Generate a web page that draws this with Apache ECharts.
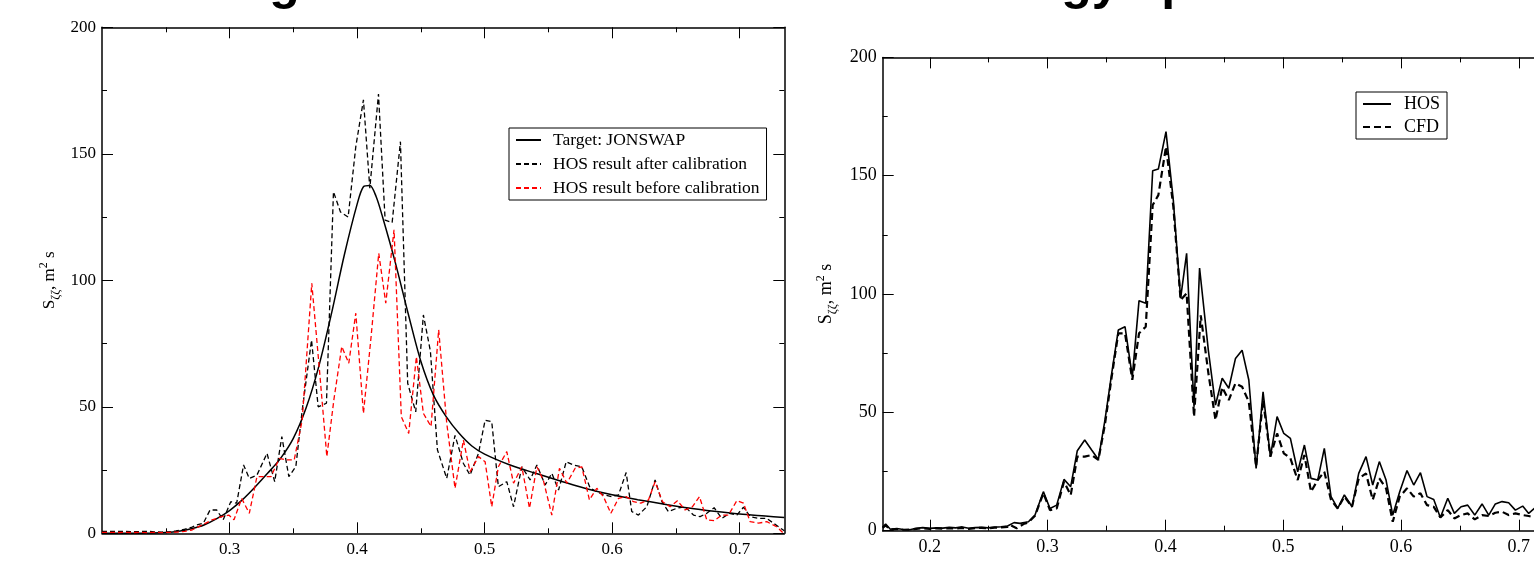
<!DOCTYPE html>
<html><head><meta charset="utf-8">
<script src="https://cdn.jsdelivr.net/npm/echarts@6/dist/echarts.min.js"></script>
<style>html,body{margin:0;padding:0;background:#fff;}#c{width:1534px;height:562px;}</style>
</head><body><div id="c"></div>
<script>
// ---------- data (frequency, S) ----------
const jonswap = [[0.20,0],[0.22,0],[0.24,0.1],[0.25,0.3],[0.26,0.8],[0.27,1.8],[0.28,3.3],[0.29,5.8],[0.30,9.0],[0.31,13.2],[0.32,18.3],[0.33,23.8],[0.34,29.6],[0.35,37.5],[0.36,49.5],[0.37,66],[0.38,87],[0.39,110],[0.40,130],[0.405,137],[0.41,137.5],[0.415,133],[0.42,125],[0.43,107],[0.44,87],[0.45,68],[0.46,54.5],[0.47,46],[0.48,39.5],[0.49,34.5],[0.50,31.3],[0.52,27],[0.54,23.7],[0.56,20.6],[0.58,17.6],[0.60,15.2],[0.62,13.3],[0.64,11.6],[0.66,10],[0.68,8.7],[0.70,7.6],[0.72,6.8],[0.735,6.2]];
const hosAfter = [[0.200,0.8],[0.206,0.8],[0.212,0.7],[0.218,0.8],[0.224,0.6],[0.229,0.7],[0.235,0.8],[0.241,0.6],[0.247,0.5],[0.253,0.6],[0.258,1.0],[0.264,1.5],[0.270,2.3],[0.2743,3.3],[0.2795,4],[0.2847,9.2],[0.290,9.2],[0.295,5.3],[0.301,12.5],[0.3056,11.9],[0.311,27],[0.3155,21.7],[0.3215,23],[0.3294,31.6],[0.3354,20.4],[0.341,38.2],[0.3465,22.4],[0.352,26.4],[0.357,48.7],[0.3643,76.4],[0.3695,50],[0.376,51.4],[0.3815,135],[0.387,127],[0.393,125],[0.399,152.8],[0.405,171.3],[0.410,136.4],[0.4168,173.6],[0.422,123.8],[0.4275,122.8],[0.434,154.8],[0.4397,59.3],[0.446,48],[0.452,86.3],[0.4575,72],[0.463,33],[0.4703,21.7],[0.4768,38.7],[0.4834,27.6],[0.4886,23],[0.4952,31.6],[0.5004,44.7],[0.5056,44.1],[0.5108,18.4],[0.5174,20.4],[0.5227,10.5],[0.5292,26.3],[0.5357,21.1],[0.541,27],[0.5475,19.1],[0.5527,23.7],[0.558,17.1],[0.564,28.3],[0.5697,27],[0.5762,26.3],[0.5828,17.8],[0.588,16.5],[0.5932,15.2],[0.5998,14.5],[0.605,15.2],[0.611,24],[0.6154,8.6],[0.6206,7.2],[0.6272,10.5],[0.6337,21.1],[0.639,12.5],[0.6441,8.6],[0.6507,9.9],[0.6572,10.5],[0.6638,7.2],[0.669,6.6],[0.6742,7.9],[0.680,10.1],[0.686,5.9],[0.6918,7.9],[0.6978,7.2],[0.703,10.3],[0.7082,6.6],[0.7148,5.9],[0.7213,5.9],[0.7265,4],[0.735,1]];
const hosBefore = [[0.200,0.4],[0.206,0.4],[0.212,0.3],[0.218,0.4],[0.224,0.3],[0.229,0.4],[0.235,0.3],[0.241,0.4],[0.247,0.3],[0.253,0.4],[0.259,0.5],[0.265,0.8],[0.2706,1.3],[0.2785,3.3],[0.2863,5.3],[0.294,6.6],[0.2994,7.2],[0.3035,5.3],[0.3095,13.8],[0.3155,7.9],[0.3215,22.4],[0.3265,22.4],[0.3325,22.4],[0.339,29.6],[0.345,29],[0.3507,29],[0.357,44.8],[0.3645,98.8],[0.3705,64.6],[0.3763,30.3],[0.3818,52.7],[0.388,73.8],[0.3935,67.2],[0.399,87],[0.405,47.4],[0.411,77.7],[0.417,110.7],[0.4225,91],[0.429,120],[0.4347,46.1],[0.4405,39.5],[0.4465,69.8],[0.452,47.4],[0.458,42.2],[0.464,80.4],[0.4703,43.6],[0.4768,17.8],[0.4834,36.8],[0.4886,24.3],[0.4952,30.3],[0.5004,28.3],[0.5056,10.5],[0.5108,26.3],[0.5174,32.3],[0.5227,19.8],[0.5292,26.3],[0.5352,9.9],[0.541,26.3],[0.546,21.1],[0.5527,7.2],[0.5587,25.7],[0.5645,19.8],[0.571,25.7],[0.5762,26.3],[0.5822,13.2],[0.588,17.8],[0.5932,14.5],[0.599,7.9],[0.605,13.8],[0.611,14.5],[0.6167,12.5],[0.6225,11.9],[0.6285,13.2],[0.6337,20.4],[0.6395,12.5],[0.6455,10.5],[0.6512,12.9],[0.6572,9.2],[0.663,10.5],[0.6685,14.5],[0.6742,5.3],[0.680,5],[0.686,7.2],[0.6912,7.2],[0.6978,12.9],[0.703,11.9],[0.7082,4.6],[0.7148,4],[0.7213,4.6],[0.729,2.6],[0.7343,0]];
const hos = [[0.160,1.5],[0.1625,2.8],[0.1665,0.6],[0.172,0.9],[0.1775,0.5],[0.183,0.4],[0.1885,1.0],[0.194,1.3],[0.200,1.0],[0.2055,1.2],[0.211,1.1],[0.2165,1.4],[0.222,1.2],[0.2275,1.6],[0.233,1.0],[0.2385,1.3],[0.244,1.4],[0.2495,1.2],[0.255,1.5],[0.2605,1.7],[0.266,2.0],[0.2715,3.4],[0.2766,3.1],[0.2837,3.8],[0.2893,6.6],[0.2964,16.5],[0.302,9.4],[0.3077,10.8],[0.3139,21.7],[0.3196,18.6],[0.3252,33.8],[0.3315,38.3],[0.3374,34.1],[0.3431,30.1],[0.3487,46.8],[0.3544,66.5],[0.360,84.8],[0.3657,86.2],[0.3719,65.1],[0.3776,97.2],[0.3833,96.1],[0.3892,152.1],[0.394,152.8],[0.4005,168.6],[0.4067,139.7],[0.4129,98.2],[0.418,117.2],[0.4243,52.4],[0.429,111],[0.4365,76],[0.4425,53.1],[0.4482,64.4],[0.4538,60.2],[0.4595,72.8],[0.4651,76.3],[0.4708,63.7],[0.477,26.3],[0.4829,58.7],[0.4891,31.3],[0.4948,48.2],[0.5005,41.1],[0.5061,39],[0.5123,24.9],[0.518,36.2],[0.5236,22.1],[0.5293,21.4],[0.5349,34.8],[0.5406,14.4],[0.5463,9.4],[0.5519,15.1],[0.5584,10.1],[0.5641,24.2],[0.5703,31.3],[0.576,19.3],[0.5816,29.2],[0.5873,21.4],[0.593,6.6],[0.5989,16.5],[0.6051,25.4],[0.6108,19.3],[0.6165,24.5],[0.6221,14.4],[0.6278,13.2],[0.6334,5.6],[0.6397,13.7],[0.6453,7.3],[0.651,10.1],[0.6566,10.8],[0.6626,6.6],[0.6688,11.3],[0.6745,6.6],[0.6801,11.3],[0.6858,12.3],[0.6914,11.8],[0.6971,8.7],[0.7033,10.4],[0.7084,7.3],[0.7132,9.4],[0.720,7]];
const cfd = [[0.160,1.2],[0.1625,2.2],[0.1665,0.5],[0.172,0.7],[0.1775,0.4],[0.183,0.5],[0.1885,0.8],[0.194,1.0],[0.200,0.8],[0.2055,1.0],[0.211,0.9],[0.2165,1.1],[0.222,0.9],[0.2275,1.2],[0.233,0.8],[0.2385,1.1],[0.244,1.2],[0.2495,1.0],[0.255,1.3],[0.2605,1.4],[0.266,1.6],[0.2681,2.4],[0.2737,1.0],[0.2795,2.8],[0.2837,3.5],[0.2893,6.3],[0.2964,15.8],[0.302,8.7],[0.3077,9.4],[0.3139,20.7],[0.3196,15],[0.3252,31.3],[0.3315,31.3],[0.3374,32],[0.3431,29.9],[0.3487,45],[0.3544,65],[0.360,83.4],[0.3657,83.4],[0.3719,63.7],[0.3776,83.4],[0.3833,86.2],[0.3892,137.6],[0.394,141.8],[0.4005,162.3],[0.4067,137],[0.4129,97.5],[0.418,100.3],[0.4243,48.2],[0.430,91],[0.4365,66.5],[0.4425,46.8],[0.4482,60.6],[0.4538,55.2],[0.4595,62.3],[0.4651,60.8],[0.4708,54.5],[0.477,27],[0.4829,55.2],[0.4891,31.3],[0.4948,41.1],[0.5005,32.7],[0.5061,30.6],[0.5123,21.4],[0.518,32],[0.5236,16.5],[0.5293,21.4],[0.5349,24.9],[0.5406,13],[0.5463,9.4],[0.5519,14.4],[0.5584,10.1],[0.5641,22.1],[0.5703,24.2],[0.576,13],[0.5816,22.1],[0.5873,17.9],[0.593,3.8],[0.5989,14.4],[0.6051,17.9],[0.6108,14.4],[0.6165,15.8],[0.6221,10.8],[0.6278,10.1],[0.6334,5.6],[0.6397,8.7],[0.6453,5.2],[0.651,6.6],[0.6566,7.3],[0.6626,4.8],[0.6688,6.6],[0.6745,6.2],[0.6801,7.6],[0.6858,8],[0.6914,6.6],[0.6971,7.3],[0.7033,6.6],[0.7084,6.2],[0.7132,5.6],[0.720,5]];

// ---------- ticks ----------
const leftXMajor = [0.3, 0.4, 0.5, 0.6, 0.7];
const leftXMinor = [0.25, 0.35, 0.45, 0.55, 0.65];
const rightXMajor = [0.2, 0.3, 0.4, 0.5, 0.6, 0.7];
const rightXMinor = [0.25, 0.35, 0.45, 0.55, 0.65, 0.75];
const yMajor = [0, 50, 100, 150, 200];
const yMinor = [25, 75, 125, 175];

const seriesNames = ['Target: JONSWAP', 'HOS result after calibration', 'HOS result before calibration', 'HOS', 'CFD'];
const yName = '{s|S}{sub|ζζ}{s|, m}{sup|2}{s| s}';

const SERIF = '"Liberation Serif", "Times New Roman", serif';
const BLACK = '#000';

function richName(fs) {
  return {
    fontFamily: SERIF, fontSize: fs, color: BLACK,
    rich: {
      s: { fontFamily: SERIF, fontSize: fs, color: BLACK, lineHeight: 24 },
      sub: { fontFamily: SERIF, fontSize: Math.round(fs * 0.68), color: BLACK, verticalAlign: 'bottom' },
      sup: { fontFamily: SERIF, fontSize: Math.round(fs * 0.68), color: BLACK, verticalAlign: 'top' }
    }
  };
}

function axisPair(kind, grid, min, max, major, fs, withName, nameGap) {
  const main = {
    type: 'value', gridIndex: grid, min: min, max: max,
    position: kind === 'x' ? 'bottom' : 'left',
    axisLine: { show: true, onZero: false, lineStyle: { color: BLACK, width: 1.5 } },
    axisTick: { show: true, inside: true, length: 11, customValues: major, lineStyle: { color: BLACK, width: 1 } },
    axisLabel: { show: true, customValues: major, fontFamily: SERIF, fontSize: fs, color: BLACK, margin: kind === 'x' ? 8 : 6 },
    splitLine: { show: false }
  };
  if (withName) {
    main.name = yName; main.nameLocation = 'middle'; main.nameGap = nameGap;
    main.nameTextStyle = richName(fs);
  }
  const mirror = {
    type: 'value', gridIndex: grid, min: min, max: max,
    position: kind === 'x' ? 'top' : 'right',
    axisLine: { show: true, onZero: false, lineStyle: { color: BLACK, width: 1.5 } },
    axisTick: { show: true, inside: true, length: 11, customValues: major, lineStyle: { color: BLACK, width: 1 } },
    axisLabel: { show: false }, splitLine: { show: false }
  };
  return [main, mirror];
}
function minorPair(kind, grid, min, max, minor) {
  const base = (pos) => ({
    type: 'value', gridIndex: grid, min: min, max: max, position: pos,
    axisLine: { show: false, onZero: false },
    axisTick: { show: true, inside: true, length: 5, customValues: minor, lineStyle: { color: BLACK, width: 1 } },
    axisLabel: { show: false }, splitLine: { show: false }
  });
  return kind === 'x' ? [base('bottom'), base('top')] : [base('left'), base('right')];
}

const L = { left: 102, top: 27.3, width: 682.3, height: 506, containLabel: false, outerBoundsMode: 'none' };
const R = { left: 882.7, top: 57.4, width: 695, height: 473.3, containLabel: false, outerBoundsMode: 'none' };

const option = {
  animation: false,
  backgroundColor: '#fff',
  grid: [
    Object.assign({}, L), Object.assign({}, L),
    Object.assign({}, R), Object.assign({}, R)
  ],
  // axis indices: 0/1 left main, 2/3 left minor, 4/5 right main, 6/7 right minor
  xAxis: [].concat(
    axisPair('x', 0, 0.2, 0.735, leftXMajor, 17, false),
    minorPair('x', 1, 0.2, 0.735, leftXMinor),
    axisPair('x', 2, 0.16, 0.75, rightXMajor, 18, false),
    minorPair('x', 3, 0.16, 0.75, rightXMinor)
  ),
  yAxis: [].concat(
    axisPair('y', 0, 0, 200, yMajor, 17, true, 40),
    minorPair('y', 1, 0, 200, yMinor),
    axisPair('y', 2, 0, 200, yMajor, 18, true, 44),
    minorPair('y', 3, 0, 200, yMinor)
  ),
  legend: [
    {
      orient: 'vertical', left: 509, top: 128,
      data: seriesNames.slice(0, 3),
      itemWidth: 25, itemHeight: 15, itemGap: 6,
      itemStyle: { opacity: 0 },
      borderColor: BLACK, borderWidth: 1, padding: [3, 7, 3, 6],
      textStyle: { fontFamily: SERIF, fontSize: 17.5, lineHeight: 15, color: BLACK, padding: [0, 0, 0, 7] }
    },
    {
      orient: 'vertical', left: 1356, top: 92,
      data: seriesNames.slice(3),
      itemWidth: 28, itemHeight: 16, itemGap: 5,
      itemStyle: { opacity: 0 },
      borderColor: BLACK, borderWidth: 1, padding: [3, 7, 3, 6],
      textStyle: { fontFamily: SERIF, fontSize: 18, lineHeight: 16, color: BLACK, padding: [0, 0, 0, 8] }
    }
  ],
  series: [
    { name: seriesNames[0], type: 'line', xAxisIndex: 0, yAxisIndex: 0, data: jonswap, symbol: 'none', smooth: 0.3,
      lineStyle: { color: BLACK, width: 1.5 }, itemStyle: { color: BLACK }, clip: true },
    { name: seriesNames[1], type: 'line', xAxisIndex: 0, yAxisIndex: 0, data: hosAfter, symbol: 'none',
      lineStyle: { color: BLACK, width: 1.3, type: [5, 3] }, itemStyle: { color: BLACK }, clip: true },
    { name: seriesNames[2], type: 'line', xAxisIndex: 0, yAxisIndex: 0, data: hosBefore, symbol: 'none',
      lineStyle: { color: '#ff0000', width: 1.3, type: [5, 3] }, itemStyle: { color: '#ff0000' }, clip: true },
    { name: seriesNames[3], type: 'line', xAxisIndex: 4, yAxisIndex: 4, data: hos, symbol: 'none',
      lineStyle: { color: BLACK, width: 1.6 }, itemStyle: { color: BLACK }, clip: true },
    { name: seriesNames[4], type: 'line', xAxisIndex: 4, yAxisIndex: 4, data: cfd, symbol: 'none',
      lineStyle: { color: BLACK, width: 2.2, type: [7, 4] }, itemStyle: { color: BLACK }, clip: true }
  ],
  graphic: [
    { type: 'text', left: -18, top: -40, style: { text: 'Wave making', font: 'bold 50px "Liberation Sans", sans-serif', fill: BLACK } },
    { type: 'text', left: 813, top: -40, style: { text: 'Wave energy spectrum', font: 'bold 50px "Liberation Sans", sans-serif', fill: BLACK } }
  ]
};
const chart = echarts.init(document.getElementById('c'), null, { renderer: 'canvas' });
chart.setOption(option);
</script></body></html>
